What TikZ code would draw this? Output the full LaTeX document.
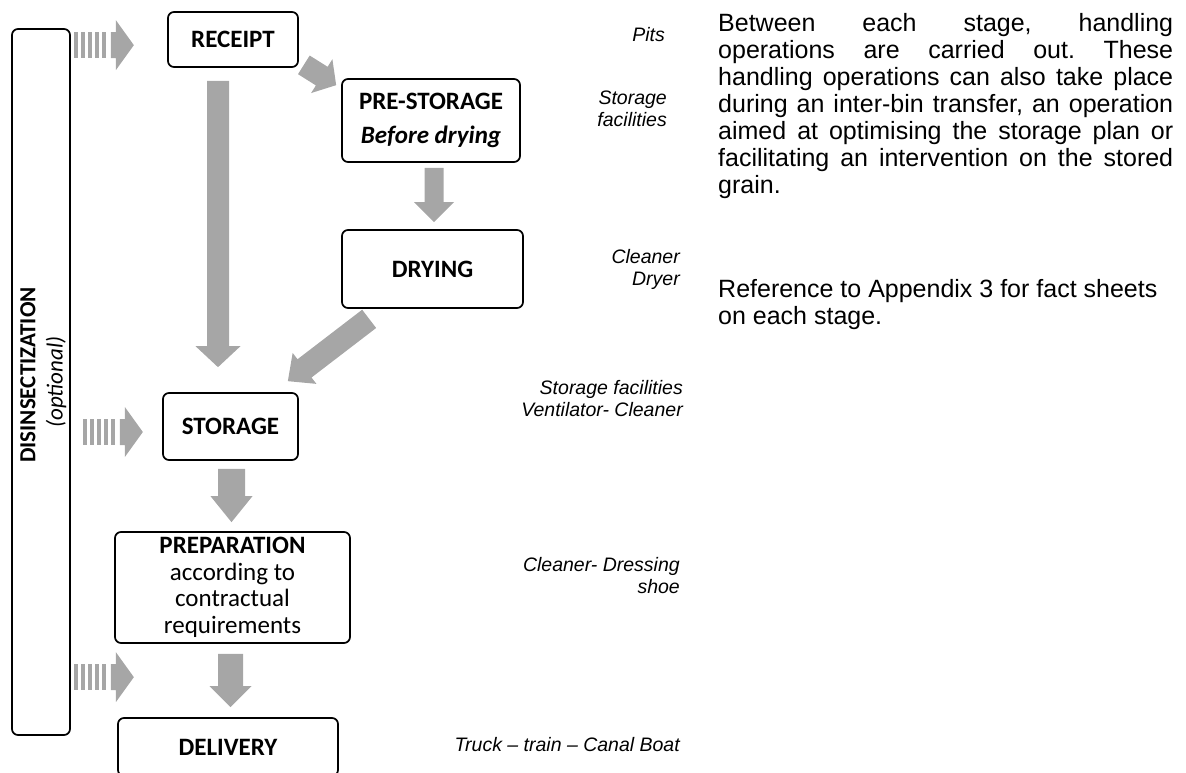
\documentclass[tikz,border=0pt]{standalone}
\usepackage{fontspec}
\setmainfont{Carlito}
\newfontfamily\arialfont[Ligatures=TeX]{Liberation Sans}
\usetikzlibrary{calc,positioning}
\definecolor{arrowgrey}{HTML}{A6A6A6}

\tikzset{
	stage/.style={draw, line width=1.7pt, rounded corners=6pt, align=center, inner sep=0pt, font=\fontsize{25}{26.5}\selectfont},
	kit/.style={font=\arialfont\itshape\fontsize{19.5}{22}\selectfont, align=right, inner sep=0pt},
	note/.style={font=\arialfont\frenchspacing\fontsize{25}{27}\selectfont, align=left, inner sep=0pt, anchor=north west}
}

% grey block arrow: tail, tip, half body, half head, head length
\newcommand{\blockarrow}[5]{%
	\coordinate (ba-base) at ($(#2)!#5!(#1)$);
	\fill[arrowgrey] ($(#1)!#3!90:(#2)$) -- ($(ba-base)!#3!90:(#2)$) -- ($(ba-base)!#4!90:(#2)$) -- (#2)
		-- ($(ba-base)!#4!-90:(#2)$) -- ($(ba-base)!#3!-90:(#2)$) -- ($(#1)!#3!-90:(#2)$) -- cycle;
}
% striped arrow of the disinsectization column
\newcommand{\pestarrow}[1]{%
	\foreach \k in {0,...,4}
		\fill[arrowgrey] ($(#1)+(\k*7,-13)$) rectangle ++(4,26);
	\coordinate (pa-tail) at ($(#1)+(37,0)$);
	\coordinate (pa-tip) at ($(#1)+(60,0)$);
	\blockarrow{pa-tail}{pa-tip}{13pt}{25pt}{18pt}
}

\begin{document}
\begin{tikzpicture}[x=1pt,y=-1pt]
		\useasboundingbox (0,0) rectangle (1186,772);
		%stages
			\node[stage, minimum width=130pt, minimum height=55pt] (receipt) at (233,39.5) {\bfseries RECEIPT};
			\node[stage, minimum width=178pt, minimum height=83pt] (prestore) at (431,120.5) {\bfseries PRE-STORAGE\\[8pt]\bfseries\itshape Before drying};
			\node[stage, minimum width=181pt, minimum height=78pt] (drying) at (432.5,269) {\bfseries DRYING};
			\node[stage, minimum width=135pt, minimum height=67pt] (storage) at (230.5,426.5) {\bfseries STORAGE};
			\node[stage, minimum width=235pt, minimum height=111pt] (prep) at (232.5,587.5) {\textbf{PREPARATION}\\according to\\contractual\\requirements};
			\node[stage, minimum width=220pt, minimum height=58pt] (delivery) at (228,747) {\bfseries DELIVERY};
		%disinsectization column
			\node[stage, minimum width=58pt, minimum height=706pt] (pest) at (41,382) {};
			\node[rotate=90, font=\bfseries\fontsize{23}{25}\selectfont, inner sep=0pt] (pestname) at (28,375) {DISINSECTIZATION};
			\node[rotate=90, font=\itshape\fontsize{23}{25}\selectfont, inner sep=0pt] (pestopt) at (56,382) {(optional)};
		%flows
			\coordinate (r-out) at ($(receipt.south)+(-15,13)$);
			\coordinate (s-in) at ($(storage.north)+(-12.5,-25)$);
			\blockarrow{r-out}{s-in}{11pt}{22.5pt}{21pt}
			\coordinate (r-side) at ($(receipt.south east)+(5,-3)$);
			\coordinate (p-in) at ($(prestore.north west)+(-5,7)$);
			\blockarrow{r-side}{p-in}{11pt}{20pt}{17pt}
			\coordinate (p-out) at ($(prestore.south)+(3,5)$);
			\coordinate (d-in) at ($(drying.north)+(1.5,-7)$);
			\blockarrow{p-out}{d-in}{9.5pt}{20pt}{20pt}
			\coordinate (d-out) at ($(drying.south west)+(28,10)$);
			\coordinate (s-side) at ($(storage.north east)+(-11,-11)$);
			\blockarrow{d-out}{s-side}{11.5pt}{19.5pt}{21pt}
			\coordinate (s-out) at ($(storage.south)+(1,8)$);
			\coordinate (q-in) at ($(prep.north)+(-1,-9)$);
			\blockarrow{s-out}{q-in}{13.5pt}{21pt}{26pt}
			\coordinate (q-out) at ($(prep.south)+(-2,10)$);
			\coordinate (v-in) at ($(delivery.north)+(2.5,-10)$);
			\blockarrow{q-out}{v-in}{12.5pt}{21pt}{21pt}
		%treatments
			\coordinate (pest1) at ($(pest.north east)+(3,17)$);
			\coordinate (pest2) at ($(pest.east |- storage.center)+(12,5.5)$);
			\coordinate (pest3) at ($(pest.east |- delivery.north)+(3,-40)$);
			\pestarrow{pest1}
			\pestarrow{pest2}
			\pestarrow{pest3}
		%equipment
			\node[kit, anchor=east] (pits) at (665,35) {Pits};
			\node[kit, anchor=east] (silos) at (667,109) {Storage\\facilities};
			\node[kit, anchor=east] (dryer) at (680,269) {Cleaner\\Dryer};
			\node[kit, anchor=east] (vent) at (683,399) {Storage facilities\\Ventilator- Cleaner};
			\node[kit, anchor=east] (shoe) at (680,576) {Cleaner- Dressing\\shoe};
			\node[kit, anchor=east] (truck) at (680,745) {Truck -- train -- Canal Boat};
		%notes
			\node[note] (handling) at (718,13) {%
				\makebox[455pt][s]{Between each stage, handling}\\
				\makebox[455pt][s]{operations are carried out. These}\\
				\makebox[455pt][s]{handling operations can also take place}\\
				\makebox[455pt][s]{during an inter-bin transfer, an operation}\\
				\makebox[455pt][s]{aimed at optimising the storage plan or}\\
				\makebox[455pt][s]{facilitating an intervention on the stored}\\
				grain.};
			\node[note] (appendix) at (718,279) {Reference to Appendix 3 for fact sheets\\on each stage.};
	\end{tikzpicture}
\end{document}
